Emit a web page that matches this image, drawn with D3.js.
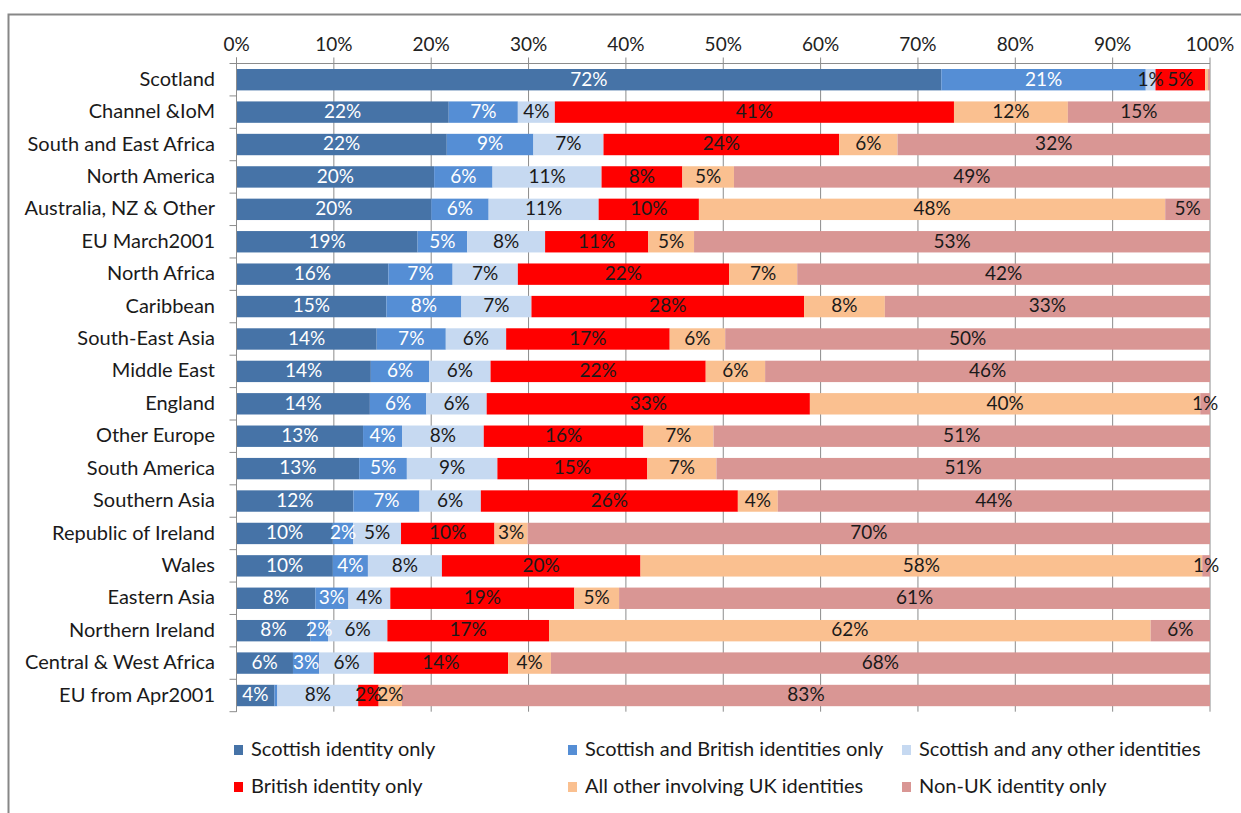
<!DOCTYPE html>
<html>
<head>
<meta charset="utf-8">
<script src="https://cdn.jsdelivr.net/npm/d3@7"></script>
<style>
  body { margin: 0; background: #fff; }
  svg { display: block; font-family: Lato, "Open Sans", sans-serif; }
</style>
</head>
<body>
<div id="chart"></div>
<script>
// regions, top to bottom
const regions = [
  "Scotland", "Channel &IoM", "South and East Africa", "North America",
  "Australia, NZ & Other", "EU March2001", "North Africa", "Caribbean",
  "South-East Asia", "Middle East", "England", "Other Europe", "South America",
  "Southern Asia", "Republic of Ireland", "Wales", "Eastern Asia",
  "Northern Ireland", "Central & West Africa", "EU from Apr2001"
]

const seriesNames = [
  "Scottish identity only", "Scottish and British identities only",
  "Scottish and any other identities", "British identity only",
  "All other involving UK identities", "Non-UK identity only"
]

// percent values per series, same order as regions
const scottishOnly = [72.4, 21.8, 21.6, 20.3, 20.0, 18.6, 15.6, 15.4, 14.4, 13.8, 13.7, 13.0, 12.6, 12.0, 9.9, 9.9, 8.1, 7.6, 5.8, 3.9]
const scottishBritish = [21.0, 7.1, 8.9, 6.0, 5.9, 5.1, 6.6, 7.7, 7.1, 6.0, 5.8, 4.0, 4.9, 6.8, 2.1, 3.6, 3.4, 1.8, 2.7, 0.3]
const scottishOther = [1.0, 3.8, 7.2, 11.2, 11.3, 8.0, 6.7, 7.2, 6.2, 6.3, 6.2, 8.4, 9.3, 6.3, 4.9, 7.6, 4.3, 6.1, 5.6, 8.3]
const britishOnly = [5.1, 41.0, 24.2, 8.3, 10.3, 10.6, 21.7, 28.0, 16.8, 22.1, 33.2, 16.4, 15.4, 26.4, 9.6, 20.4, 18.9, 16.6, 13.8, 2.1]
const otherUK = [0.3, 11.7, 6.0, 5.3, 47.9, 4.7, 7.0, 8.3, 5.7, 6.1, 40.1, 7.2, 7.1, 4.1, 3.4, 57.7, 4.6, 61.8, 4.4, 2.4]
const nonUK = [0.2, 14.6, 32.1, 48.9, 4.6, 53.0, 42.4, 33.4, 49.8, 45.7, 1.0, 51.0, 50.7, 44.4, 70.1, 0.8, 60.7, 6.1, 67.7, 83.0]

const xTicks = [0, 10, 20, 30, 40, 50, 60, 70, 80, 90, 100]

const colors = ["#4673a7", "#558ed5", "#c6d9f1", "#ff0000", "#fac090", "#d99694"]
const labelColors = ["#ffffff", "#ffffff", "#1a1a1a", "#1a1a1a", "#1a1a1a", "#1a1a1a"]

const width = 1241
const height = 813
const plot = { left: 236.5, right: 1210, top: 63.5, bottom: 711.7 }

const allSeries = [scottishOnly, scottishBritish, scottishOther, britishOnly, otherUK, nonUK]
const rows = regions.map((r, i) => {
  const row = { region: r }
  seriesNames.forEach((s, j) => { row[s] = allSeries[j][i] })
  return row
})

const stacked = d3.stack().keys(seriesNames)(rows)

const x = d3.scaleLinear().domain([0, 100]).range([plot.left, plot.right])
const y = d3.scaleBand().domain(regions).range([plot.top, plot.bottom]).paddingInner(0.34).paddingOuter(0.17)

const svg = d3.select("#chart").append("svg")
  .attr("width", width)
  .attr("height", height)

// outer frame
svg.append("path")
  .attr("d", `M8.5,${height + 5}V14.5H${width + 5}`)
  .attr("fill", "none")
  .attr("stroke", "#878787")
  .attr("stroke-width", 2)

// gridlines + top ticks
svg.append("g")
  .selectAll("line")
  .data(xTicks)
  .join("line")
  .attr("x1", d => x(d)).attr("x2", d => x(d))
  .attr("y1", plot.top - 6).attr("y2", plot.bottom)
  .attr("stroke", "#8c8c8c")
  .attr("stroke-width", 1)

svg.append("g")
  .selectAll("text")
  .data(xTicks)
  .join("text")
  .attr("x", d => x(d))
  .attr("y", 46)
  .attr("text-anchor", "middle")
  .attr("dominant-baseline", "middle")
  .style("font-size", "19px")
  .style("fill", "#222")
  .text(d => d + "%")

// top axis line
svg.append("line")
  .attr("x1", plot.left).attr("x2", plot.right)
  .attr("y1", plot.top).attr("y2", plot.top)
  .attr("stroke", "#8c8c8c")

// bars
const layers = svg.append("g")
  .selectAll("g")
  .data(stacked)
  .join("g")
  .attr("fill", (d, i) => colors[i])

layers.selectAll("rect")
  .data(d => d)
  .join("rect")
  .attr("x", d => x(d[0]))
  .attr("y", d => y(d.data.region))
  .attr("width", d => x(d[1]) - x(d[0]))
  .attr("height", y.bandwidth())

// value labels
stacked.forEach((layer, i) => {
  svg.append("g")
    .selectAll("text")
    .data(layer.filter(d => Math.round(d[1] - d[0]) >= 1))
    .join("text")
    .attr("x", d => (x(d[0]) + x(d[1])) / 2)
    .attr("y", d => y(d.data.region) + y.bandwidth() / 2 + 1)
    .attr("text-anchor", "middle")
    .attr("dominant-baseline", "middle")
    .style("font-size", "19px")
    .style("fill", labelColors[i])
    .text(d => Math.round(d[1] - d[0]) + "%")
})

// left axis with ticks between categories
const step = y.step()
const boundaries = d3.range(regions.length + 1).map(i => plot.top + i * step)
svg.append("line")
  .attr("x1", plot.left).attr("x2", plot.left)
  .attr("y1", plot.top - 6).attr("y2", plot.bottom)
  .attr("stroke", "#8c8c8c")
svg.append("g")
  .selectAll("line")
  .data(boundaries)
  .join("line")
  .attr("x1", plot.left - 7).attr("x2", plot.left)
  .attr("y1", d => d).attr("y2", d => d)
  .attr("stroke", "#8c8c8c")

svg.append("g")
  .selectAll("text")
  .data(regions)
  .join("text")
  .attr("x", 215)
  .attr("y", d => y(d) + y.bandwidth() / 2 + 1)
  .attr("text-anchor", "end")
  .attr("dominant-baseline", "middle")
  .style("font-size", "20px")
  .style("fill", "#1a1a1a")
  .text(d => d)

// legend
const legendX = [234, 568, 902]
const legendY = [750, 787]
const legend = svg.append("g")
  .selectAll("g")
  .data(seriesNames)
  .join("g")
  .attr("transform", (d, i) => `translate(${legendX[i % 3]},${legendY[Math.floor(i / 3)]})`)

legend.append("rect")
  .attr("x", 0).attr("y", -5)
  .attr("width", 9).attr("height", 10)
  .attr("fill", (d, i) => colors[i])

legend.append("text")
  .attr("x", 17)
  .attr("y", 1)
  .attr("dominant-baseline", "middle")
  .style("font-size", "20px")
  .style("fill", "#1a1a1a")
  .text(d => d)
</script>
</body>
</html>
